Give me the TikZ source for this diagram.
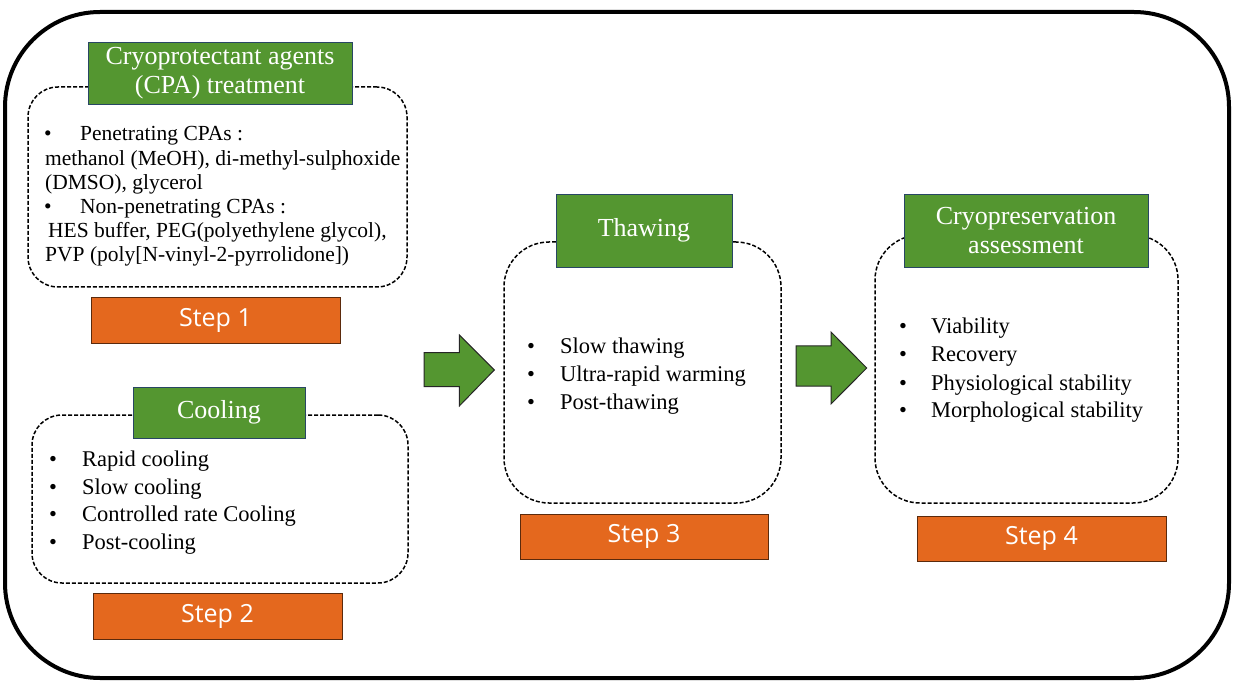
\documentclass[tikz,border=0pt]{standalone}
\usepackage{fontspec}
\setmainfont{Liberation Serif}
\newfontfamily\stepfont{Open Sans}
\definecolor{hdrgreen}{RGB}{84,150,48}
\definecolor{steporange}{RGB}{228,104,30}
\definecolor{hdrline}{RGB}{40,70,100}
\begin{document}
\begin{tikzpicture}[x=1pt,y=-1pt,
 frame/.style={draw=black, line width=4pt, rounded corners=95pt},
 dashbox/.style={draw=black, dash pattern=on 4pt off 2pt, line width=1.5pt, rounded corners=#1, inner sep=0pt},
 header/.style={fill=hdrgreen, draw=hdrline, line width=0.8pt, text=white, font=\fontsize{26}{29}\selectfont, align=center, inner sep=0pt},
 stepbox/.style={fill=steporange, draw=black!60!steporange, line width=0.8pt, text=white, font=\stepfont\fontsize{25}{28}\selectfont, inner sep=0pt},
 item/.style={anchor=base west, inner sep=0pt, font=\fontsize{22.5}{26}\selectfont},
 itemsm/.style={anchor=base west, inner sep=0pt, font=\fontsize{21.5}{24}\selectfont},
 bigarrow/.style={fill=hdrgreen, draw=black!85, line width=1pt, line join=miter}]
\useasboundingbox (0,0) rectangle (1247,684);
\draw[frame] (5,12) rectangle (1229,678);

% dashed content boxes
\node[dashbox=30pt, minimum width=379pt, minimum height=200pt] (box1) at (217.5,187) {};
\node[dashbox=30pt, minimum width=376pt, minimum height=168pt] (box2) at (220,499) {};
\node[dashbox=45pt, minimum width=277pt, minimum height=261pt] (box3) at (642.5,372.5) {};
\node[dashbox=45pt, minimum width=303pt, minimum height=268pt] (box4) at (1026.5,369) {};

% green headers
\node[header, minimum width=264pt, minimum height=62pt] (cpa) at (220,73) {Cryoprotectant agents\\(CPA) treatment};
\node[header, minimum width=172pt, minimum height=51pt] (cool) at (219,412.5) {Cooling};
\node[header, minimum width=176pt, minimum height=73pt] (thaw) at (644,230.5) {Thawing};
\node[header, minimum width=244pt, minimum height=73pt] (assess) at (1026,230.5) {Cryopreservation\\assessment};

% step labels
\node[stepbox, minimum width=249pt, minimum height=46pt] (s1) at (215.5,320) {\raisebox{-2pt}{Step 1}};
\node[stepbox, minimum width=249pt, minimum height=46pt] (s2) at (217.5,616) {\raisebox{-2pt}{Step 2}};
\node[stepbox, minimum width=248pt, minimum height=45pt] (s3) at (644,536.5) {\raisebox{-2pt}{Step 3}};
\node[stepbox, minimum width=249pt, minimum height=45pt] (s4) at (1041.5,538.5) {\raisebox{-2pt}{Step 4}};

% block arrows
\draw[bigarrow] (424,352.7) -- (459.3,352.7) -- (459.3,335) -- (494.3,370) -- (459.3,406) -- (459.3,386.7) -- (424,386.7) -- cycle;
\draw[bigarrow] (796,346) -- (831,346) -- (831,332) -- (866.7,368) -- (831,404) -- (831,386) -- (796,386) -- cycle;

% box 1 text
\node[itemsm] (b1a) at (44,141) {\textbullet};
\node[itemsm] (t1a) at (80,141) {Penetrating CPAs :};
\node[itemsm] (t1b) at (45,165.7) {methanol (MeOH), di-methyl-sulphoxide};
\node[itemsm] (t1c) at (45,189.5) {(DMSO), glycerol};
\node[itemsm] (b1d) at (44,213.5) {\textbullet};
\node[itemsm] (t1d) at (80,213.5) {Non-penetrating CPAs :};
\node[itemsm] (t1e) at (48,237.5) {HES buffer, PEG(polyethylene glycol),};
\node[itemsm] (t1f) at (45,262) {PVP (poly[N-vinyl-2-pyrrolidone])};

% box 2 text
\node[item] (b2a) at (49,466) {\textbullet};
\node[item] (t2a) at (82,466) {Rapid cooling};
\node[item] (b2b) at (49,494) {\textbullet};
\node[item] (t2b) at (82,494) {Slow cooling};
\node[item] (b2c) at (49,521.5) {\textbullet};
\node[item] (t2c) at (82,521.5) {Controlled rate Cooling};
\node[item] (b2d) at (49,549) {\textbullet};
\node[item] (t2d) at (82,549) {Post-cooling};

% box 3 text
\node[item] (b3a) at (527,354) {\textbullet};
\node[item] (t3a) at (560,354) {Slow thawing};
\node[item] (b3b) at (527,381.7) {\textbullet};
\node[item] (t3b) at (560,381.7) {Ultra-rapid warming};
\node[item] (b3c) at (527,409) {\textbullet};
\node[item] (t3c) at (560,409) {Post-thawing};

% box 4 text
\node[item] (b4a) at (899,334) {\textbullet};
\node[item] (t4a) at (931,334) {Viability};
\node[item] (b4b) at (899,361.7) {\textbullet};
\node[item] (t4b) at (931,361.7) {Recovery};
\node[item] (b4c) at (899,390) {\textbullet};
\node[item] (t4c) at (931,390) {Physiological stability};
\node[item] (b4d) at (899,417.4) {\textbullet};
\node[item] (t4d) at (931,417.4) {Morphological stability};
\end{tikzpicture}
\end{document}
